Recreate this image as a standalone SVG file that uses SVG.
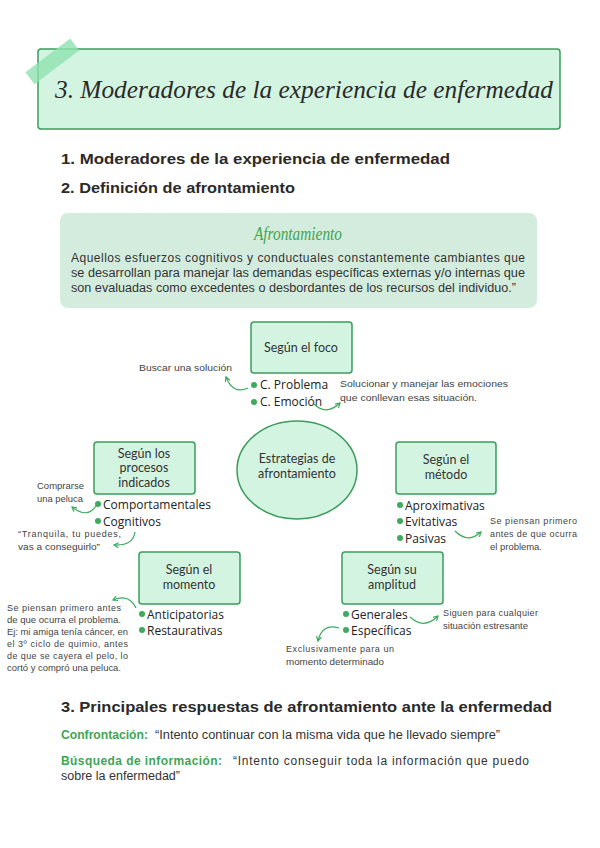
<svg xmlns="http://www.w3.org/2000/svg" width="600" height="848" viewBox="0 0 600 848">
<defs>
<style>
.box{fill:#d4f4e2;stroke:#3b9c5c;stroke-width:1.5}
.nt{font-family:Lato,"Open Sans",sans-serif;font-size:12.5px;fill:#333;text-anchor:middle}
.bt{font-family:"Open Sans",sans-serif;font-size:12px;fill:#222}
.dot{fill:#3daa5e}
.ann{font-family:"Liberation Sans",sans-serif;font-size:9px;fill:#444}
.h{font-family:"Liberation Sans",sans-serif;font-size:15px;font-weight:bold;fill:#2a2a2a}
.body{font-family:"Liberation Sans",sans-serif;font-size:12px;fill:#333}
.gr{font-family:"Liberation Sans",sans-serif;font-size:12px;font-weight:bold;fill:#3ea653}
.cn{fill:none;stroke:#3daa5e;stroke-width:1.2}
</style>
<marker id="ah" viewBox="0 0 6 6" refX="5" refY="3" markerWidth="6" markerHeight="6" orient="auto" markerUnits="userSpaceOnUse">
<path d="M0.5,0.5 L5,3 L0.5,5.5" fill="none" stroke="#3daa5e" stroke-width="1.2"/>
</marker>
</defs>
<rect width="600" height="848" fill="#ffffff"/>

<g id="title">
<rect x="38" y="49" width="522" height="80" rx="3" fill="#d4f4e2" stroke="#3b9c5c" stroke-width="1.5"/>
<rect x="24" y="54" width="56" height="15" fill="#8fe2b0" opacity="0.8" transform="rotate(-37 52 61)"/>
<text x="55" y="98" font-family="'Liberation Serif',serif" font-style="italic" font-size="26" fill="#2a2a2a" textLength="498" lengthAdjust="spacingAndGlyphs">3. Moderadores de la experiencia de enfermedad</text>
</g>

<g id="headings">
<text class="h" x="61" y="164" textLength="389" lengthAdjust="spacingAndGlyphs">1. Moderadores de la experiencia de enfermedad</text>
<text class="h" x="61" y="193" textLength="234" lengthAdjust="spacingAndGlyphs">2. Definición de afrontamiento</text>
</g>

<g id="definicion">
<rect x="60" y="213" width="477" height="95" rx="8" fill="#d4ecde"/>
<text x="298" y="240" text-anchor="middle" font-family="'Liberation Serif',serif" font-style="italic" font-size="18" fill="#3ea653" textLength="88" lengthAdjust="spacingAndGlyphs">Afrontamiento</text>
<text class="body" x="71" y="262" textLength="454" lengthAdjust="spacing">Aquellos esfuerzos cognitivos y conductuales constantemente cambiantes que</text>
<text class="body" x="71" y="277" textLength="454" lengthAdjust="spacingAndGlyphs">se desarrollan para manejar las demandas específicas externas y/o internas que</text>
<text class="body" x="71" y="292" textLength="445" lengthAdjust="spacingAndGlyphs">son evaluadas como excedentes o desbordantes de los recursos del individuo.”</text>
</g>

<g id="centro">
<ellipse cx="297" cy="470" rx="60" ry="49" fill="#d4f4e2" stroke="#3b9c5c" stroke-width="1.5"/>
<text class="nt" x="297" y="463">Estrategias de</text>
<text class="nt" x="297" y="478">afrontamiento</text>
</g>

<g id="foco">
<rect class="box" x="251" y="322" width="101" height="51" rx="3"/>
<text class="nt" x="301" y="352">Según el foco</text>
<circle class="dot" cx="254" cy="385" r="3"/>
<text class="bt" x="260" y="389">C. Problema</text>
<circle class="dot" cx="254" cy="402" r="3"/>
<text class="bt" x="260" y="406">C. Emoción</text>
<text class="ann" x="139" y="371" textLength="93" lengthAdjust="spacingAndGlyphs">Buscar una solución</text>
<text class="ann" x="340" y="387" textLength="168" lengthAdjust="spacingAndGlyphs">Solucionar y manejar las emociones</text>
<text class="ann" x="340" y="401" textLength="137" lengthAdjust="spacingAndGlyphs">que conllevan esas situación.</text>
</g>

<g id="procesos">
<rect class="box" x="94" y="442" width="101" height="52" rx="3"/>
<text class="nt" x="144" y="457.5">Según los</text>
<text class="nt" x="144" y="472">procesos</text>
<text class="nt" x="144" y="486.5">indicados</text>
<circle class="dot" cx="98" cy="504" r="3"/>
<text class="bt" x="103" y="509">Comportamentales</text>
<circle class="dot" cx="98" cy="521" r="3"/>
<text class="bt" x="103" y="526">Cognitivos</text>
<text class="ann" x="37" y="489" textLength="47" lengthAdjust="spacingAndGlyphs">Comprarse</text>
<text class="ann" x="37" y="502" textLength="46" lengthAdjust="spacingAndGlyphs">una peluca</text>
<text class="ann" x="18" y="537" textLength="103" lengthAdjust="spacing">“Tranquila,  tu  puedes,</text>
<text class="ann" x="18" y="550" textLength="82" lengthAdjust="spacingAndGlyphs">vas a conseguirlo”</text>
</g>

<g id="metodo">
<rect class="box" x="396" y="442" width="100" height="52" rx="3"/>
<text class="nt" x="446" y="463.5">Según el</text>
<text class="nt" x="446" y="478.5">método</text>
<circle class="dot" cx="400" cy="505" r="3"/>
<text class="bt" x="405" y="510">Aproximativas</text>
<circle class="dot" cx="400" cy="521" r="3"/>
<text class="bt" x="405" y="526">Evitativas</text>
<circle class="dot" cx="400" cy="538" r="3"/>
<text class="bt" x="405" y="543">Pasivas</text>
<text class="ann" x="490" y="524" textLength="87" lengthAdjust="spacing">Se piensan primero</text>
<text class="ann" x="490" y="537" textLength="87" lengthAdjust="spacing">antes de que ocurra</text>
<text class="ann" x="490" y="550" textLength="52" lengthAdjust="spacingAndGlyphs">el problema.</text>
</g>

<g id="momento">
<rect class="box" x="139" y="552" width="101" height="52" rx="3"/>
<text class="nt" x="189" y="573.5">Según el</text>
<text class="nt" x="189" y="588.5">momento</text>
<circle class="dot" cx="142" cy="614" r="3"/>
<text class="bt" x="147" y="619">Anticipatorias</text>
<circle class="dot" cx="142" cy="630" r="3"/>
<text class="bt" x="147" y="635">Restaurativas</text>
<text class="ann" x="7" y="611" textLength="114" lengthAdjust="spacing">Se piensan primero antes</text>
<text class="ann" x="7" y="623" textLength="114" lengthAdjust="spacingAndGlyphs">de que ocurra el problema.</text>
<text class="ann" x="7" y="635" textLength="121" lengthAdjust="spacingAndGlyphs">Ej: mi amiga tenía cáncer, en</text>
<text class="ann" x="7" y="647" textLength="121" lengthAdjust="spacing">el 3º ciclo de quimio, antes</text>
<text class="ann" x="7" y="659" textLength="121" lengthAdjust="spacing">de que se cayera el pelo, lo</text>
<text class="ann" x="7" y="671" textLength="114" lengthAdjust="spacingAndGlyphs">cortó y compró una peluca.</text>
</g>

<g id="amplitud">
<rect class="box" x="342" y="552" width="101" height="52" rx="3"/>
<text class="nt" x="392" y="573.5">Según su</text>
<text class="nt" x="392" y="588.5">amplitud</text>
<circle class="dot" cx="346" cy="614" r="3"/>
<text class="bt" x="351" y="619">Generales</text>
<circle class="dot" cx="346" cy="630" r="3"/>
<text class="bt" x="351" y="635">Específicas</text>
<text class="ann" x="443" y="616" textLength="95" lengthAdjust="spacing">Siguen  para  cualquier</text>
<text class="ann" x="443" y="629" textLength="85" lengthAdjust="spacingAndGlyphs">situación estresante</text>
<text class="ann" x="286" y="652" textLength="108" lengthAdjust="spacing">Exclusivamente  para  un</text>
<text class="ann" x="286" y="665" textLength="98" lengthAdjust="spacingAndGlyphs">momento determinado</text>
</g>

<g id="connectors">
<path class="cn" d="M248,388 Q233,395 226,377" marker-end="url(#ah)"/>
<path class="cn" d="M314,404 Q326,416 340,403" marker-end="url(#ah)"/>
<path class="cn" d="M96,506 Q87,519 72,507" marker-end="url(#ah)"/>
<path class="cn" d="M135,532 Q133,546 114,545" marker-end="url(#ah)"/>
<path class="cn" d="M455,531 Q468,544 481,532" marker-end="url(#ah)"/>
<path class="cn" d="M136,608 Q129,593 113,600" marker-end="url(#ah)"/>
<path class="cn" d="M410,617 Q424,630 438,616" marker-end="url(#ah)"/>
<path class="cn" d="M339,628 Q322,623 318,641" marker-end="url(#ah)"/>
</g>

<g id="respuestas">
<text class="h" x="61" y="712" textLength="491" lengthAdjust="spacingAndGlyphs">3. Principales respuestas de afrontamiento ante la enfermedad</text>
<text class="gr" x="61" y="739" textLength="87" lengthAdjust="spacingAndGlyphs">Confrontación:</text>
<text class="body" x="155" y="739" textLength="345" lengthAdjust="spacingAndGlyphs">“Intento continuar con la misma vida que he llevado siempre”</text>
<text class="gr" x="61" y="765" textLength="161" lengthAdjust="spacing">Búsqueda de información:</text>
<text class="body" x="233" y="765" textLength="296" lengthAdjust="spacing">“Intento conseguir toda la información que puedo</text>
<text class="body" x="61" y="780" textLength="119" lengthAdjust="spacingAndGlyphs">sobre la enfermedad”</text>
</g>
</svg>
